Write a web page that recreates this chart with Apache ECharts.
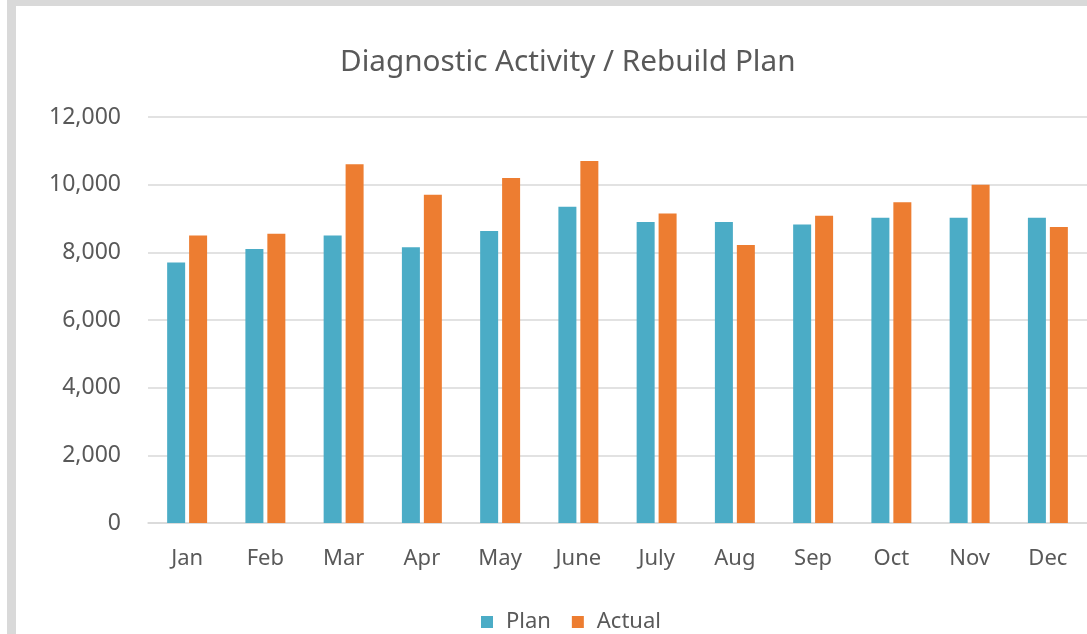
<!DOCTYPE html>
<html>
<head>
<meta charset="utf-8">
<script src="https://cdn.jsdelivr.net/npm/echarts@6/dist/echarts.min.js"></script>
<style>
  html, body { margin: 0; padding: 0; background: #fff; overflow: hidden; }
  .frame { position: absolute; left: 7px; top: 0; width: 1080px; height: 634px; background: #d9d9d9; }
  #chart { position: absolute; left: 16px; top: 6px; width: 1071px; height: 628px; background: #fff; }
</style>
</head>
<body>
<div class="frame"></div>
<div id="chart"></div>
<script>
// months on the x axis
const months = ['Jan', 'Feb', 'Mar', 'Apr', 'May', 'June', 'July', 'Aug', 'Sep', 'Oct', 'Nov', 'Dec']
// values
const planValues = [7700, 8100, 8500, 8150, 8630, 9350, 8900, 8900, 8820, 9020, 9020, 9020]
const actualValues = [8500, 8550, 10600, 9700, 10200, 10700, 9150, 8220, 9080, 9480, 10000, 8750]

const textColor = '#595959'
const fontName = 'Noto Sans'

const chart = echarts.init(document.getElementById('chart'))

const option = {
  animation: false,
  title: {
    text: 'Diagnostic Activity / Rebuild Plan',
    left: 319,
    top: 37,
    textStyle: { fontFamily: fontName, fontSize: 29.7, fontWeight: 'normal', color: textColor }
  },
  legend: {
    top: 600,
    left: 460,
    itemWidth: 12,
    itemHeight: 12,
    itemGap: 21,
    icon: 'rect',
    formatter: name => ' \u200A' + name,
    textStyle: { fontFamily: fontName, fontSize: 22, color: textColor }
  },
  grid: { left: 132, right: 0, top: 111, bottom: 111 },
  xAxis: {
    type: 'category',
    data: months,
    axisLine: { lineStyle: { color: '#d9d9d9', width: 1.5 } },
    axisTick: { show: false },
    axisLabel: { fontFamily: fontName, fontSize: 22, color: textColor, margin: 25 }
  },
  yAxis: {
    type: 'value',
    min: 0,
    max: 12000,
    interval: 2000,
    axisLine: { show: false },
    axisTick: { show: false },
    splitLine: { lineStyle: { color: '#d9d9d9', width: 1.5 } },
    axisLabel: {
      fontFamily: fontName,
      fontSize: 23,
      color: textColor,
      margin: 27,
      formatter: v => v.toLocaleString('en-US')
    }
  },
  series: [
    {
      name: 'Plan',
      type: 'bar',
      data: planValues,
      barWidth: 18,
      barGap: '22%',
      itemStyle: { color: '#4bacc6' }
    },
    {
      name: 'Actual',
      type: 'bar',
      data: actualValues,
      barWidth: 18,
      itemStyle: { color: '#ed7d31' }
    }
  ]
}

chart.setOption(option)
window.addEventListener('resize', () => chart.resize())
</script>
</body>
</html>
